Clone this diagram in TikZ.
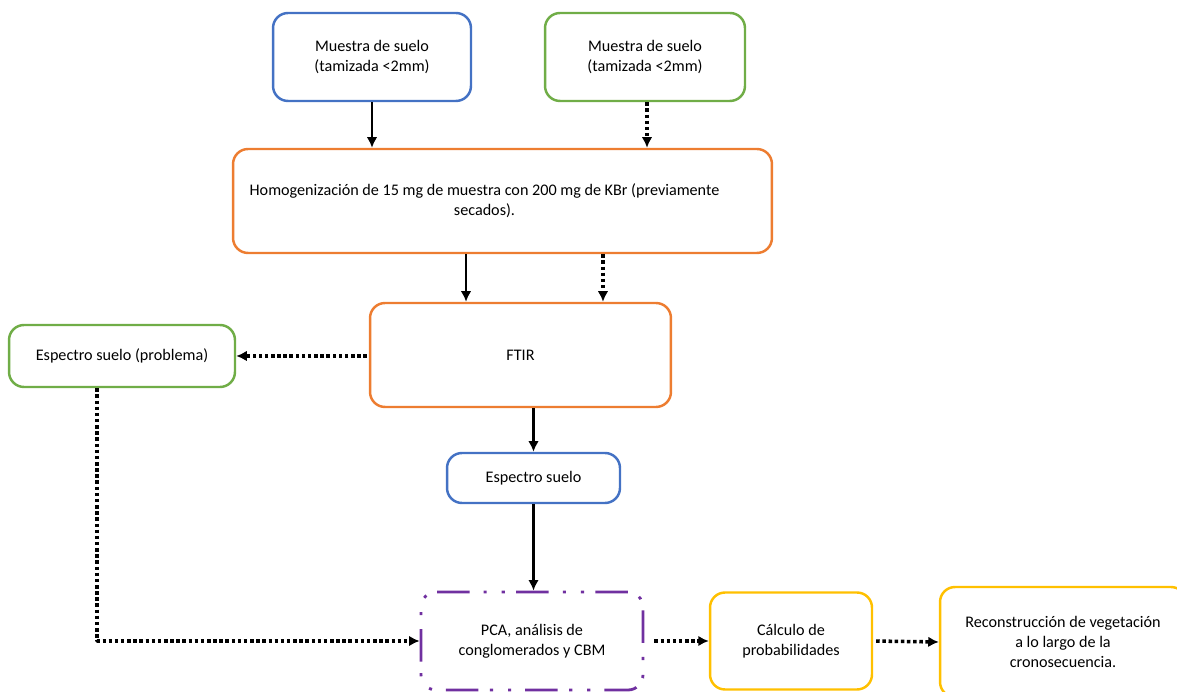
\documentclass[tikz,border=0pt]{standalone}
\usepackage{fontspec}
\setmainfont{Carlito}
\usetikzlibrary{arrows.meta}
\definecolor{boxblue}{HTML}{4472C4}
\definecolor{boxgreen}{HTML}{70AD47}
\definecolor{boxorange}{HTML}{ED7D31}
\definecolor{boxyellow}{HTML}{FFC000}
\definecolor{boxpurple}{HTML}{7030A0}
\begin{document}
\begin{tikzpicture}[x=0.02cm,y=-0.02cm,line cap=butt,line join=round,
    every node/.style={font=\fontsize{9.2}{11.3}\selectfont,align=center},
    stepbox/.style={draw=#1,line width=1.4pt,rounded corners=0.3cm,fill=white,inner sep=0pt},
    solidarrow/.style={line width=1.5pt,-{Latex[length=6pt,width=6pt]}},
    dotarrow/.style={line width=2pt,dash pattern=on 2pt off 1.5pt,-{Latex[length=6pt,width=6pt]}},
    pcaline/.style={draw=boxpurple,line width=1.6pt,rounded corners=0.3cm,inner sep=0pt,
      dash pattern=on 18.5pt off 6.5pt on 1.8pt off 8.5pt on 1.8pt off 8pt}]
  \useasboundingbox (0,0) rectangle (1177,692);
  % sample boxes
  \node[stepbox=boxblue,minimum width=3.96cm,minimum height=1.76cm] (sampleA) at (372,57)
    {Muestra de suelo\\(tamizada <2mm)};
  \node[stepbox=boxgreen,minimum width=4.0cm,minimum height=1.76cm] (sampleB) at (645,57)
    {Muestra de suelo\\(tamizada <2mm)};
  % preparation and measurement
  \node[stepbox=boxorange,minimum width=10.78cm,minimum height=2.08cm] (homog) at (502.5,201)
    {Homogenización de 15 mg de muestra con 200 mg de KBr (previamente\hspace*{0.72cm}\\secados).\hspace*{0.72cm}};
  \node[stepbox=boxorange,minimum width=6.02cm,minimum height=2.08cm] (ftir) at (520.5,355) {FTIR};
  \node[stepbox=boxgreen,minimum width=4.52cm,minimum height=1.24cm] (probSpec) at (122,356)
    {Espectro suelo (problema)};
  \node[stepbox=boxblue,minimum width=3.46cm,minimum height=1.0cm] (spec) at (533.5,478) {Espectro suelo};
  % analysis
  \node[pcaline,minimum width=4.44cm,minimum height=1.96cm] (pca) at (532,641)
    {PCA, análisis de\\conglomerados y CBM};
  \node[stepbox=boxyellow,minimum width=3.24cm,minimum height=1.94cm] (calc) at (791,641)
    {Cálculo de\\probabilidades};
  \node[stepbox=boxyellow,minimum width=4.92cm,minimum height=2.2cm] (recon) at (1063,642)
    {Reconstrucción de vegetación\\a lo largo de la\\cronosecuencia.};
  % connectors
  \draw[solidarrow] (sampleA.south) -- (sampleA.south |- homog.north);
  \draw[dotarrow] ([xshift=0.04cm]sampleB.south) -- ([xshift=0.04cm]sampleB.south |- homog.north);
  \draw[solidarrow] ([xshift=-1.09cm]ftir.north |- homog.south) -- ([xshift=-1.09cm]ftir.north);
  \draw[dotarrow] ([xshift=1.65cm]ftir.north |- homog.south) -- ([xshift=1.65cm]ftir.north);
  \draw[dotarrow] ([xshift=-0.04cm]ftir.west |- probSpec.east) -- (probSpec.east);
  \draw[solidarrow] (spec.north |- ftir.south) -- (spec.north);
  \draw[solidarrow] (spec.south) -- (spec.south |- pca.north);
  \draw[dotarrow] ([xshift=-0.5cm]probSpec.south) |- (pca.west);
  \draw[dotarrow,shorten <=0.2cm] (pca.east) -- (calc.west);
  \draw[dotarrow,shorten <=0.06cm] (calc.east) -- (recon.west);
\end{tikzpicture}
\end{document}
